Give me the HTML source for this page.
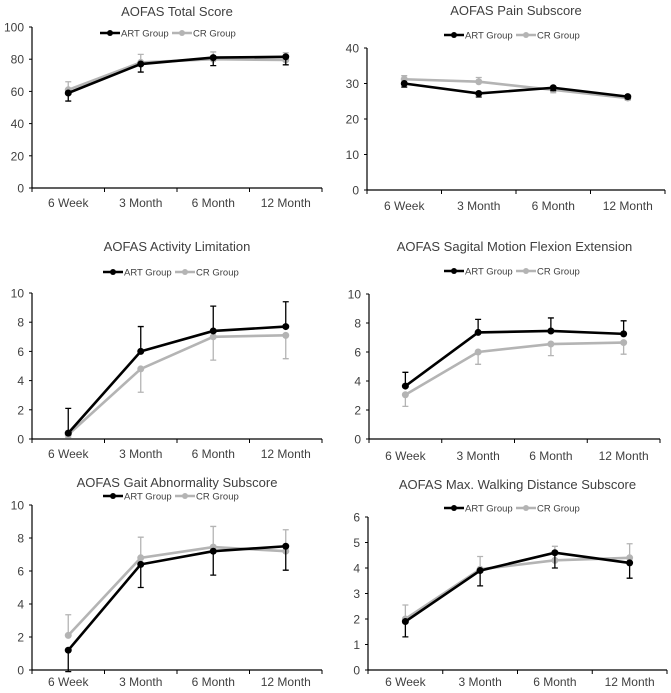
<!DOCTYPE html>
<html><head><meta charset="utf-8"><style>
html,body{margin:0;padding:0;background:#fff;}
svg{display:block;font-family:"Liberation Sans",sans-serif;}
</style></head><body>
<svg id="chart" width="671" height="693" viewBox="0 0 671 693"></svg>
<script>
const categories = ["6 Week","3 Month","6 Month","12 Month"];
const totalArt = [59,77,81,81.5], totalCr = [61,78,80,79.5];
const totalArtErr = [-5,-5,-5,-5], totalCrErr = [5,5,4.5,4.5];
const painArt = [30,27.2,28.8,26.3], painCr = [31.2,30.5,28.2,25.9];
const painArtErr = [-1,-1,-0.8,-0.6], painCrErr = [1,1.2,-0.8,-0.6];
const actArt = [0.4,6,7.4,7.7], actCr = [0.3,4.8,7,7.1];
const actArtErr = [1.7,1.7,1.7,1.7], actCrErr = [-0.2,-1.6,-1.6,-1.6];
const sagArt = [3.65,7.35,7.45,7.25], sagCr = [3.05,6,6.55,6.65];
const sagArtErr = [0.95,0.9,0.9,0.9], sagCrErr = [-0.8,-0.85,-0.8,-0.8];
const gaitArt = [1.2,6.4,7.2,7.5], gaitCr = [2.1,6.8,7.45,7.2];
const gaitArtErr = [-1.3,-1.4,-1.45,-1.45], gaitCrErr = [1.25,1.25,1.25,1.3];
const walkArt = [1.9,3.9,4.6,4.2], walkCr = [2,3.95,4.3,4.4];
const walkArtErr = [-0.6,-0.6,-0.6,-0.6], walkCrErr = [0.55,0.5,0.55,0.55];
const totalTicks=[0,20,40,60,80,100], painTicks=[0,10,20,30,40], tenTicks=[0,2,4,6,8,10], sixTicks=[0,1,2,3,4,5,6];

const svg=document.getElementById('chart');
const NS='http://www.w3.org/2000/svg';
function mk(tag,attrs,parent,text){const e=document.createElementNS(NS,tag);for(const k in attrs)e.setAttribute(k,attrs[k]);if(text!==undefined)e.textContent=text;(parent||svg).appendChild(e);return e;}

const panels=[
 {key:'total',title:'AOFAS Total Score',ticks:totalTicks,art:totalArt,cr:totalCr,ae:totalArtErr,ce:totalCrErr,x0:32,x1:322,yT:27,yB:188,ty:16,ly:33,lx:100,lab:207},
 {key:'pain',title:'AOFAS Pain Subscore',ticks:painTicks,art:painArt,cr:painCr,ae:painArtErr,ce:painCrErr,x0:367,x1:665,yT:48,yB:190,ty:15,ly:35,lx:444,lab:210},
 {key:'activity',title:'AOFAS Activity Limitation',ticks:tenTicks,art:actArt,cr:actCr,ae:actArtErr,ce:actCrErr,x0:32,x1:322,yT:293,yB:439,ty:251,ly:272,lx:103,lab:458},
 {key:'sagittal',title:'AOFAS Sagital Motion Flexion Extension',ticks:tenTicks,art:sagArt,cr:sagCr,ae:sagArtErr,ce:sagCrErr,x0:369,x1:660,yT:294,yB:439,ty:251,ly:271,lx:444,lab:460},
 {key:'gait',title:'AOFAS Gait Abnormality Subscore',ticks:tenTicks,art:gaitArt,cr:gaitCr,ae:gaitArtErr,ce:gaitCrErr,x0:32,x1:322,yT:505,yB:670,ty:487,ly:496,lx:103,lab:686},
 {key:'walking',title:'AOFAS Max. Walking Distance Subscore',ticks:sixTicks,art:walkArt,cr:walkCr,ae:walkArtErr,ce:walkCrErr,x0:368,x1:667,yT:517,yB:670,ty:489,ly:508,lx:444,lab:686}
];

panels.forEach(p=>{
 const g=mk('g',{});
 
 
 const max=p.ticks[p.ticks.length-1];
 const ys=v=>p.yB-(v/max)*(p.yB-p.yT);
 const bw=(p.x1-p.x0)/categories.length;
 const xs=i=>p.x0+bw*(i+0.5);
 const t=mk('text',{x:(p.x0+p.x1)/2,y:p.ty,'text-anchor':'middle','font-size':13,fill:'#404040'},g,p.title);
  
 const ya=mk('line',{x1:p.x0,y1:p.yT,x2:p.x0,y2:p.yB,stroke:'#000','stroke-width':1.2},g);
  
 const xa=mk('line',{x1:p.x0,y1:p.yB,x2:p.x1,y2:p.yB,stroke:'#000','stroke-width':1.2},g);
  
 p.ticks.forEach(v=>{
  mk('line',{x1:p.x0-3,y1:ys(v),x2:p.x0,y2:ys(v),stroke:'#000'},g);
  const tl=mk('text',{x:p.x0-8,y:ys(v)+4.5,'text-anchor':'end','font-size':12,fill:'#404040'},g,v);
   
 });
 for(let i=0;i<=categories.length;i++) mk('line',{x1:p.x0+bw*i,y1:p.yB,x2:p.x0+bw*i,y2:p.yB+4,stroke:'#000'},g);
 categories.forEach((c,i)=>{
  const cl=mk('text',{x:xs(i),y:p.lab,'text-anchor':'middle','font-size':12,fill:'#404040'},g,c);
   
 });
 [['cr',p.cr,p.ce,'#b4b4b4'],['art',p.art,p.ae,'#000']].forEach(([nm,vals,errs,col])=>{
  vals.forEach((v,i)=>{
   const y2=ys(v+errs[i]);
   const eb=mk('path',{d:`M${xs(i)},${ys(v)}V${y2}M${xs(i)-3},${y2}H${xs(i)+3}`,stroke:col,'stroke-width':1.3,fill:'none'},g);
    
  });
  const ln=mk('polyline',{points:vals.map((v,i)=>xs(i)+','+ys(v)).join(' '),stroke:col,'stroke-width':2.6,fill:'none'},g);
   
  vals.forEach((v,i)=>{
   const pt=mk('circle',{cx:xs(i),cy:ys(v),r:3.5,fill:col},g);
    
  });
 });
 const lg=mk('g',{},g);
  
 [['ART Group','#000',0],['CR Group','#b4b4b4',72]].forEach(([lab,col,dx])=>{
  const x=p.lx+dx;
  mk('line',{x1:x,y1:p.ly,x2:x+20,y2:p.ly,stroke:col,'stroke-width':2.6},lg);
  mk('circle',{cx:x+10,cy:p.ly,r:3,fill:col},lg);
  const lt=mk('text',{x:x+21,y:p.ly+3.5,'font-size':9.5,fill:'#404040'},lg,lab);
   
 });
});
</script>
</body></html>
